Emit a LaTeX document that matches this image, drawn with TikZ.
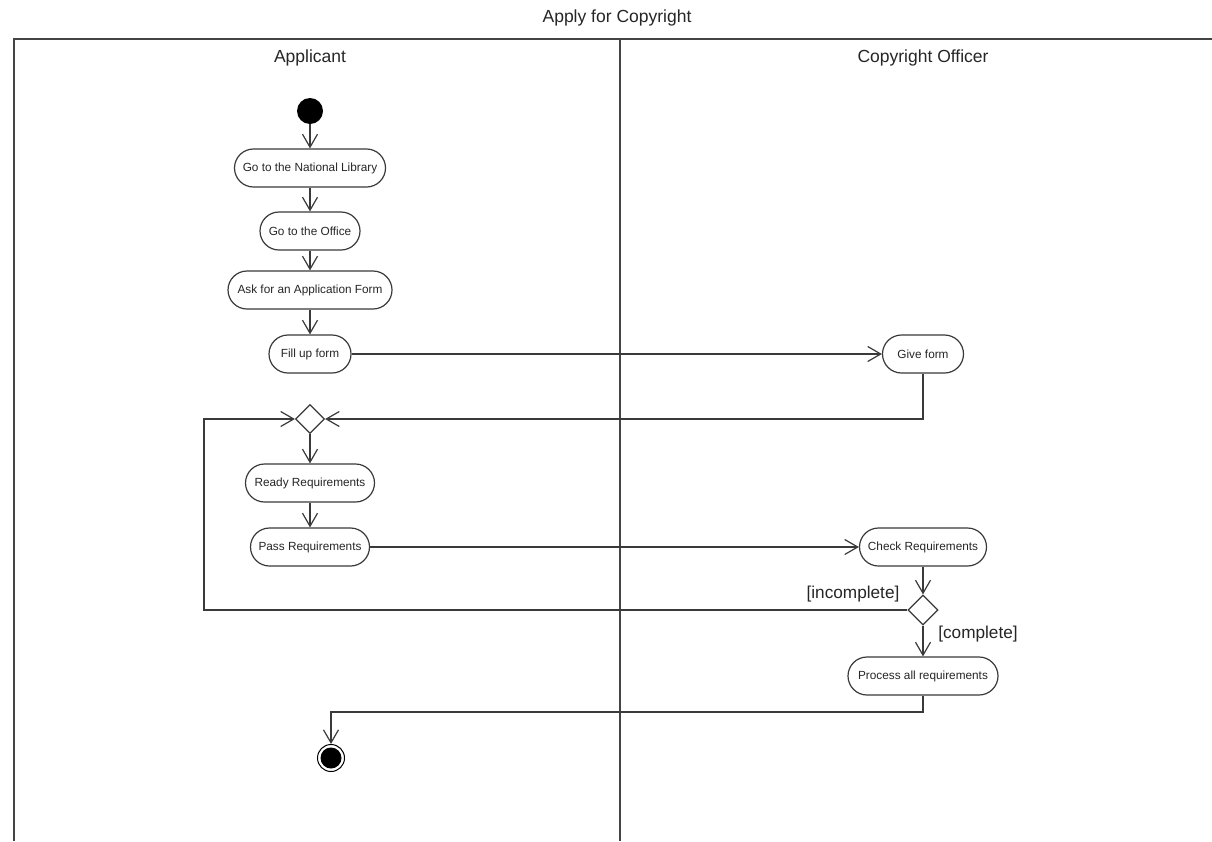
\documentclass[tikz,border=0pt]{standalone}
\usepackage{fontspec}
\setmainfont{Liberation Sans}
\usetikzlibrary{arrows.meta,shapes.geometric}
\definecolor{ln}{HTML}{3A3A3A}
\definecolor{fr}{HTML}{444444}
\tikzset{
  act/.style={draw=ln,line width=1.2pt,rectangle,rounded corners=19pt,minimum height=38pt,inner sep=0pt,font=\fontsize{11.8}{13}\selectfont,text=black!85},
  dec/.style={draw=ln,line width=1.2pt,diamond,inner sep=0pt,minimum width=29pt,minimum height=29pt},
  arr/.style={draw=ln,line width=1.2pt,-{Straight Barb[length=13pt,width=15pt,line width=1.2pt]}},
  conn/.style={draw=ln,line width=1.2pt},
  lane/.style={font=\fontsize{17.5}{20}\selectfont,text=black!85},
  guard/.style={font=\fontsize{17.2}{20}\selectfont,text=black!85}
}
\begin{document}
\begin{tikzpicture}[x=1pt,y=-1pt]
\useasboundingbox (0,0) rectangle (1212,841);
\fill[white] (0,0) rectangle (1212,841);
% title and frame
\node[lane] (title) at (617,18) {Apply for Copyright};
\draw[fr,line width=2.5pt] (14,841) -- (14,39) -- (1212,39);
\draw[fr,line width=2pt] (620,39) -- (620,841);
\node[lane] (applicant) at (310,58) {Applicant};
\node[lane] (officer) at (923,58) {Copyright Officer};
% nodes
\node[circle,fill=black,minimum size=26pt,inner sep=0pt] (start) at (310,111) {};
\node[act,minimum width=151pt] (lib) at (310,168) {Go to the National Library};
\node[act,minimum width=100pt] (office) at (310,231) {Go to the Office};
\node[act,minimum width=164pt] (ask) at (310,290) {Ask for an Application Form};
\node[act,minimum width=82pt] (fill) at (310,354) {Fill up form};
\node[act,minimum width=81pt] (give) at (923,354) {Give form};
\node[dec] (d1) at (310,419) {};
\node[act,minimum width=129pt] (ready) at (310,483) {Ready Requirements};
\node[act,minimum width=119pt] (pass) at (310,547) {Pass Requirements};
\node[act,minimum width=127pt] (check) at (923,547) {Check Requirements};
\node[dec,minimum width=30pt,minimum height=30pt] (d2) at (923,610) {};
\node[act,minimum width=150pt] (proc) at (923,676) {Process all requirements};
\node[circle,draw=black,line width=1pt,minimum size=27pt,inner sep=0pt] (end) at (331,758) {};
\fill[black] (end.center) circle (10.5pt);
\node[guard] (ginc) at (853,594) {[incomplete]};
\node[guard] (gcom) at (978,634) {[complete]};
\coordinate (loopL) at (204,419);
\coordinate (turn) at (923,712);
% connectors
\draw[arr] (start) -- (lib);
\draw[arr] (lib) -- (office);
\draw[arr] (office) -- (ask);
\draw[arr] (ask) -- (fill);
\draw[arr] (fill.east) -- (give.west);
\draw[arr] (give.south) |- (d1.east);
\draw[arr] (d1) -- (ready);
\draw[arr] (ready) -- (pass);
\draw[arr] (pass.east) -- (check.west);
\draw[arr] (check) -- (d2);
\draw[arr] (d2.west) -| (loopL) -- (d1.west);
\draw[arr] (d2) -- (proc);
\draw[arr] (proc.south) -- (turn) -| (end.north);
\end{tikzpicture}
\end{document}
